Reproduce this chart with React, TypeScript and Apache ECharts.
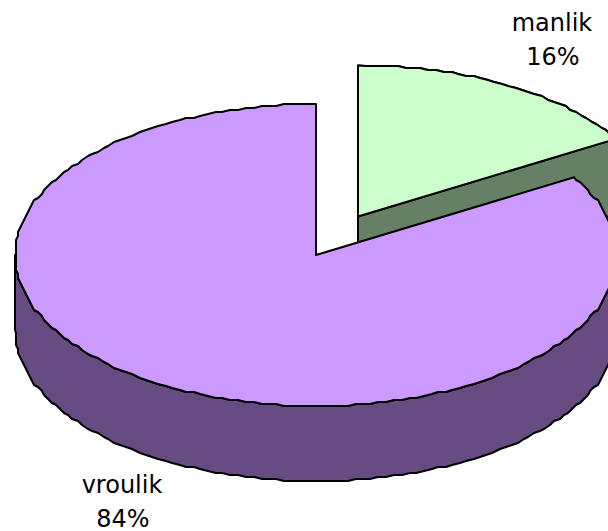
import React, { useEffect, useRef } from "react";
import * as echarts from "echarts";

const categories = ["manlik", "vroulik"];
const values = [16.4, 83.6];
const percentLabels = ["16%", "84%"];

const topColors = ["#CCFFCC", "#CC99FF"];
const sideColors = ["#668066", "#664C80"];
const centers = [[358, 216.5], [316, 255]];
const labelAnchors = [[552, 11], [122, 473]];
const RX = 301;
const RY = 151;
const DEPTH = 75;
const GRID = 2;
const STEP = 1.5;
const LINE = { stroke: "#000", lineWidth: 2, lineJoin: "round" };
const FONT = '24px "DejaVu Sans"';

const snap = (v: number) => Math.round(v / GRID) * GRID;

function rim(cx: number, cy: number, deg: number) {
  const a = (deg * Math.PI) / 180;
  return [cx + RX * Math.sin(a), cy - RY * Math.cos(a)];
}

// Rim samples fall on whole multiples of STEP so that wall and top share their vertices.
function arc(cx: number, cy: number, a0: number, a1: number) {
  const pts: number[][] = [rim(cx, cy, a0)];
  const first = Math.ceil(a0 / STEP + 1e-6);
  const last = Math.floor(a1 / STEP - 1e-6);
  for (let k = first; k <= last; k++) {
    const [x, y] = rim(cx, cy, k * STEP);
    pts.push([snap(x), snap(y)]);
  }
  pts.push(rim(cx, cy, a1));
  return pts;
}

export default function App() {
  const ref = useRef<HTMLDivElement>(null);
  useEffect(() => {
    const chart = echarts.init(ref.current!, undefined, { renderer: "svg" });
    const total = values.reduce((a, b) => a + b, 0);
    chart.setOption({
      animation: false,
      backgroundColor: "#fff",
      series: [
        {
          type: "custom",
          coordinateSystem: "none",
          silent: true,
          data: categories.map((name, i) => ({ name, value: values[i] })),
          renderItem: (params: any, api: any) => {
            const i = params.dataIndex;
            let start = 0;
            for (let k = 0; k < i; k++) start += values[k];
            const a0 = (start / total) * 360;
            const a1 = a0 + (api.value(0) / total) * 360;
            const [cx, cy] = centers[i];
            const children: any[] = [];

            // outer wall: visible on the front half of the rim only
            const wallStart = Math.max(a0, i === 0 ? 0 : 90);
            const wallEnd = Math.min(a1, 270);
            const top = arc(cx, cy, wallStart, wallEnd);
            const bottom = top.map(([x, y]) => [x, y + DEPTH]).reverse();
            children.push({
              type: "polygon",
              shape: { points: [...top, ...bottom] },
              style: { fill: sideColors[i], ...LINE },
            });

            // cut face on the trailing edge, seen only for the detached slice
            if (i === 0) {
              const end = rim(cx, cy, a1);
              children.push({
                type: "polygon",
                shape: {
                  points: [
                    [cx, cy],
                    end,
                    [end[0], end[1] + DEPTH],
                    [cx, cy + DEPTH],
                  ],
                },
                style: { fill: sideColors[i], ...LINE },
              });
            }

            children.push({
              type: "polygon",
              shape: { points: [[cx, cy], ...arc(cx, cy, a0, a1)] },
              style: { fill: topColors[i], ...LINE },
            });

            const [lx, ly] = labelAnchors[i];
            children.push({
              type: "text",
              style: {
                text: categories[i],
                x: lx,
                y: ly,
                align: "center",
                verticalAlign: "top",
                fill: "#000",
                font: FONT,
              },
            });
            children.push({
              type: "text",
              style: {
                text: percentLabels[i],
                x: lx + 1,
                y: ly + 34,
                align: "center",
                verticalAlign: "top",
                fill: "#000",
                font: FONT,
              },
            });
            return { type: "group", children };
          },
        },
      ],
    });
    return () => chart.dispose();
  }, []);
  return (
    <div
      ref={ref}
      style={{ position: "fixed", left: 0, top: 0, width: 608, height: 531, background: "#fff" }}
    />
  );
}
